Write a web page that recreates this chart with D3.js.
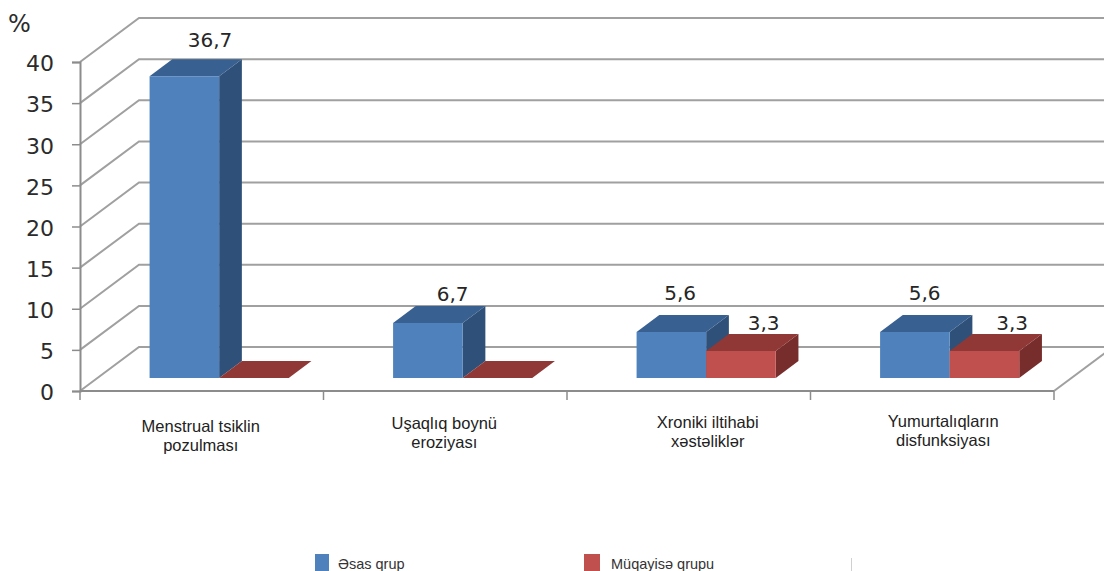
<!DOCTYPE html>
<html>
<head>
<meta charset="utf-8">
<script src="https://cdn.jsdelivr.net/npm/d3@7/dist/d3.min.js"></script>
<style>
  html, body { margin: 0; padding: 0; background: #fff; overflow: hidden; }
  svg { display: block; }
</style>
</head>
<body>
<svg id="chart" width="1104" height="571"></svg>
<script>
// Chart values
const categories = [
  ["Menstrual tsiklin", "pozulması"],
  ["Uşaqlıq boynü", "eroziyası"],
  ["Xroniki iltihabi", "xəstəliklər"],
  ["Yumurtalıqların", "disfunksiyası"]
];
const seriesNames = ["Əsas qrup", "Müqayisə qrupu"];
const mainGroup = [36.7, 6.7, 5.6, 5.6];
const comparisonGroup = [0, 0, 3.3, 3.3];
const yTicks = [0, 5, 10, 15, 20, 25, 30, 35, 40];

// Hand placement of labels, per category and series
const categoryLabelShift = [[-1, 432], [-1, 429], [19, 428], [11, 427]];
const valueLabelShift = [
  [[3, -12], null],
  [[2, -5], null],
  [[-14, -15], [0, -4]],
  [[-13, -15], [5, -4]]
];

const svg = d3.select("#chart");
const seriesValues = [mainGroup, comparisonGroup];
const palette = [
  { front: "#4f81bd", top: "#386090", side: "#2f5179" },
  { front: "#c0504d", top: "#8f3836", side: "#772d2b" }
];

// Oblique projection of the floor depth: t = 0 at the front edge, t = 1 at the back wall
const depthX = 59, depthY = 44;
const x = d3.scaleBand().domain(d3.range(categories.length)).range([80, 1054]);
const y = d3.scaleLinear().domain([0, 40]).range([391, 62]);
const inner = d3.scaleBand().domain(d3.range(seriesNames.length))
  .range([0, x.bandwidth()]).paddingInner(0).paddingOuter(0.75);
const project = (px, v, t) => [px + depthX * t, y(v) - depthY * t];
const path = pts => "M" + pts.map(p => p.join(",")).join("L") + "Z";

const frontDepth = 0.295, backDepth = 0.68;
const gridColor = "#a0a0a0", axisColor = "#8c8c8c";

// Back wall and side wall gridlines
const walls = svg.append("g").attr("fill", "none").attr("stroke", gridColor).attr("stroke-width", 2);
yTicks.forEach(v => {
  const a = project(x.range()[0], v, 0), b = project(x.range()[0], v, 1), c = project(x.range()[1], v, 1);
  walls.append("path").attr("d", `M${a}L${b}L${c}`);
});
const fa = project(x.range()[1], 0, 0), fb = project(x.range()[1], 0, 1);
walls.append("line").attr("x1", fa[0]).attr("y1", fa[1]).attr("x2", fb[0]).attr("y2", fb[1]);

// Bars, each category drawn back to front, left series first
categories.forEach((_, i) => {
  seriesValues.forEach((values, s) => {
    const v = values[i], col = palette[s];
    const l = x(i) + inner(s), r = l + inner.bandwidth();
    const g = svg.append("g");
    const baseY = project(0, 0, frontDepth)[1];
    const h = y(0) - y(v);
    const P = (px, top, t) => {
      const py = baseY - (top ? h : 0) - depthY * (t - frontDepth);
      return [px + depthX * t, py];
    };
    g.append("path").attr("fill", col.side).attr("d", path([
      P(r, true, frontDepth), P(r, true, backDepth), P(r, false, backDepth), P(r, false, frontDepth)
    ]));
    g.append("path").attr("fill", col.top).attr("d", path([
      P(l, true, frontDepth), P(l, true, backDepth), P(r, true, backDepth), P(r, true, frontDepth)
    ]));
    g.append("path").attr("fill", col.front).attr("d", path([
      P(l, true, frontDepth), P(r, true, frontDepth), P(r, false, frontDepth), P(l, false, frontDepth)
    ]));
  });
});

// Value labels
categories.forEach((_, i) => {
  seriesValues.forEach((values, s) => {
    const v = values[i];
    if (!v) return;
    const shift = valueLabelShift[i][s];
    const l = x(i) + inner(s);
    const cx = l + inner.bandwidth() / 2 + depthX * backDepth;
    const topBack = project(0, 0, frontDepth)[1] - (y(0) - y(v)) - depthY * (backDepth - frontDepth);
    svg.append("text")
      .attr("x", cx + shift[0]).attr("y", topBack + shift[1])
      .attr("text-anchor", "middle")
      .attr("font-family", "DejaVu Sans").attr("font-size", 20).attr("fill", "#262626")
      .text(String(v).replace(".", ","));
  });
});

// Value axis
const yAxis = d3.axisLeft(y).tickValues(yTicks).tickSize(8);
const yg = svg.append("g").attr("transform", "translate(80,0)").call(yAxis);
yg.select(".domain").attr("stroke", axisColor).attr("stroke-width", 2);
yg.selectAll(".tick line").attr("stroke", axisColor).attr("stroke-width", 1.5);
yg.selectAll(".tick text")
  .attr("font-family", "DejaVu Sans").attr("font-size", 22).attr("fill", "#2b2b2b")
  .attr("dy", "0.4em").attr("x", -26);

svg.append("text").attr("x", 8).attr("y", 32)
  .attr("font-family", "DejaVu Sans").attr("font-size", 24).attr("fill", "#2b2b2b").text("%");

// Category axis with ticks on the band edges
const xg = svg.append("g").attr("stroke", axisColor);
xg.append("line").attr("x1", 80).attr("x2", 1054).attr("y1", y(0)).attr("y2", y(0)).attr("stroke-width", 2);
d3.range(categories.length + 1).forEach(i => {
  const px = i < categories.length ? x(i) : x.range()[1];
  xg.append("line").attr("x1", px).attr("x2", px).attr("y1", y(0)).attr("y2", y(0) + 9).attr("stroke-width", 1.5);
});

// Category labels
categories.forEach((lines, i) => {
  const [dx, baseline] = categoryLabelShift[i];
  const t = svg.append("text")
    .attr("text-anchor", "middle")
    .attr("font-family", "Liberation Sans").attr("font-size", 16.5).attr("fill", "#222");
  lines.forEach((line, k) => {
    t.append("tspan").attr("x", x(i) + x.bandwidth() / 2 + dx).attr("y", baseline + k * 19).text(line);
  });
});

// Legend
const legendX = d3.scalePoint().domain(seriesNames).range([315, 584]);
seriesNames.forEach((name, s) => {
  const lx = legendX(name);
  svg.append("rect").attr("x", lx).attr("y", 554).attr("width", s ? 16 : 14).attr("height", 17)
    .attr("fill", palette[s].front);
  svg.append("text").attr("x", lx + (s ? 27 : 23)).attr("y", 569)
    .attr("font-family", "Liberation Sans").attr("font-size", 14.5).attr("fill", "#333").text(name);
});
svg.append("line").attr("x1", 851.5).attr("x2", 851.5).attr("y1", 558).attr("y2", 571)
  .attr("stroke", "#d0d0d0");
</script>
</body>
</html>
